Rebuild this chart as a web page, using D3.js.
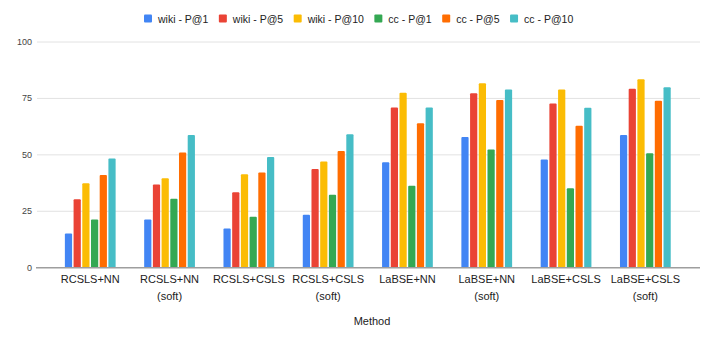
<!DOCTYPE html>
<html>
<head>
<meta charset="utf-8">
<script src="https://cdn.jsdelivr.net/npm/d3@7"></script>
<style>
  html, body { margin: 0; padding: 0; background: #fff; }
  svg { display: block; font-family: "Liberation Sans", Arial, sans-serif; }
</style>
</head>
<body>
<script>
// chart data
const methods = ["RCSLS+NN", "RCSLS+NN\n(soft)", "RCSLS+CSLS", "RCSLS+CSLS\n(soft)",
                 "LaBSE+NN", "LaBSE+NN\n(soft)", "LaBSE+CSLS", "LaBSE+CSLS\n(soft)"];
const seriesNames = ["wiki - P@1", "wiki - P@5", "wiki - P@10", "cc - P@1", "cc - P@5", "cc - P@10"];
const wikiP1  = [15.2, 21.4, 17.4, 23.5, 46.7, 57.9, 47.9, 58.8];
const wikiP5  = [30.3, 36.9, 33.4, 43.7, 71.0, 77.3, 72.8, 79.3];
const wikiP10 = [37.4, 39.6, 41.4, 47.1, 77.5, 81.7, 79.0, 83.5];
const ccP1    = [21.4, 30.6, 22.6, 32.3, 36.3, 52.4, 35.2, 50.7];
const ccP5    = [41.1, 51.0, 42.2, 51.7, 64.0, 74.3, 62.9, 74.0];
const ccP10   = [48.4, 58.8, 49.0, 59.1, 71.0, 79.0, 70.9, 79.9];
const yTicks  = [0, 25, 50, 75, 100];
const colors  = ["#4285F4", "#EA4335", "#FBBC04", "#34A853", "#FF6D01", "#46BDC6"];

const seriesValues = [wikiP1, wikiP5, wikiP10, ccP1, ccP5, ccP10];

const width = 718;
const height = 346;

const svg = d3.select("body")
    .append("svg")
    .attr("width", width)
    .attr("height", height);

const y = d3.scaleLinear().domain([0, 100]).range([267.7, 42]);

const x0 = d3.scaleBand()
    .domain(methods)
    .range([50.6, 685])
    .paddingInner(0.36)
    .paddingOuter(0.18);

const x1 = d3.scaleBand()
    .domain(seriesNames)
    .range([0, x0.bandwidth()])
    .paddingInner(0.17);

// gridlines
svg.append("g")
    .selectAll("line")
    .data(yTicks.filter(t => t !== 0))
    .enter().append("line")
    .attr("x1", 37)
    .attr("x2", 700)
    .attr("y1", d => y(d))
    .attr("y2", d => y(d))
    .attr("stroke", "#e2e2e2")
    .attr("stroke-width", 1);

// y tick labels
svg.append("g")
    .selectAll("text")
    .data(yTicks)
    .enter().append("text")
    .attr("x", 32)
    .attr("y", d => y(d) + 3)
    .attr("text-anchor", "end")
    .attr("font-size", 9)
    .attr("fill", "#444")
    .text(d => d);

// bars
const rows = [];
methods.forEach((m, i) => {
    seriesNames.forEach((s, j) => {
        rows.push({ method: m, series: s, value: seriesValues[j][i], color: colors[j] });
    });
});

svg.append("g")
    .selectAll("rect")
    .data(rows)
    .enter().append("rect")
    .attr("x", d => x0(d.method) + x1(d.series))
    .attr("y", d => y(d.value))
    .attr("width", x1.bandwidth())
    .attr("height", d => y(0) - y(d.value))
    .attr("rx", 1)
    .attr("fill", d => d.color);

// baseline
svg.append("line")
    .attr("x1", 36)
    .attr("x2", 700)
    .attr("y1", y(0))
    .attr("y2", y(0))
    .attr("stroke", "#9e9e9e")
    .attr("stroke-width", 1.5);

// category labels
const catLabels = svg.append("g")
    .selectAll("text")
    .data(methods)
    .enter().append("text")
    .attr("x", d => x0(d) + x0.bandwidth() / 2)
    .attr("y", 283)
    .attr("text-anchor", "middle")
    .attr("font-size", 11)
    .attr("fill", "#222");

catLabels.each(function(d) {
    const t = d3.select(this);
    d.split("\n").forEach((line, k) => {
        t.append("tspan")
            .attr("x", x0(d) + x0.bandwidth() / 2)
            .attr("dy", k === 0 ? 0 : 17)
            .text(line);
    });
});

// axis title
svg.append("text")
    .attr("x", 372)
    .attr("y", 325)
    .attr("text-anchor", "middle")
    .attr("font-size", 11)
    .attr("fill", "#222")
    .text("Method");

// legend
const legend = svg.append("g");
let lx = 144;
seriesNames.forEach((s, j) => {
    legend.append("rect")
        .attr("x", lx)
        .attr("y", 14.5)
        .attr("width", 8)
        .attr("height", 8)
        .attr("rx", 1)
        .attr("fill", colors[j]);
    const txt = legend.append("text")
        .attr("x", lx + 14)
        .attr("y", 22.5)
        .attr("font-size", 10.5)
        .attr("fill", "#222")
        .text(s);
    lx += 14 + txt.node().getComputedTextLength() + 10.5;
});
</script>
</body>
</html>
